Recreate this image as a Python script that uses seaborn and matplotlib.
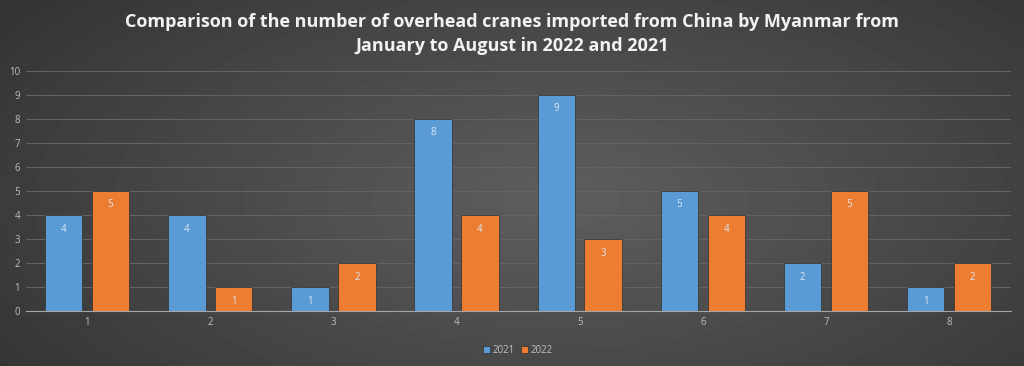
import numpy as np
import pandas as pd
import seaborn as sns
import matplotlib.pyplot as plt

# Chart data
months = [1, 2, 3, 4, 5, 6, 7, 8]
values_2021 = [4, 4, 1, 8, 9, 5, 2, 1]
values_2022 = [5, 1, 2, 4, 3, 4, 5, 2]
years = ["2021", "2022"]

data = pd.DataFrame({
    "Month": months * 2,
    "Count": values_2021 + values_2022,
    "Year": [years[0]] * len(months) + [years[1]] * len(months),
})

sns.set_theme(style="dark")
plt.rcParams["font.family"] = ["Open Sans", "DejaVu Sans"]

fig = plt.figure(figsize=(10.24, 3.66), dpi=100)

# Radial gradient background
bg = fig.add_axes([0, 0, 1, 1], zorder=-10)
yy, xx = np.mgrid[0:366, 0:1024]
dist = np.sqrt(((xx - 560) / 700.0) ** 2 + ((yy - 200) / 330.0) ** 2)
shade = np.clip(0.37 - 0.17 * dist, 0.13, 0.37)
bg.imshow(shade, cmap="gray", vmin=0, vmax=1, aspect="auto")
bg.axis("off")

ax = fig.add_axes([0.025, 0.15, 0.962, 0.656])
ax.set_facecolor("none")

palette = {"2021": "#5B9BD5", "2022": "#ED7D31"}
sns.barplot(data=data, x="Month", y="Count", hue="Year", palette=palette,
            width=0.76, gap=0.2, saturation=1, ax=ax,
            edgecolor="#3a3a3a", linewidth=0.6, zorder=3)

for container in ax.containers:
    ax.bar_label(container, padding=-14, color="#dde6f0", fontsize=7)

ax.set_ylim(0, 10)
ax.set_yticks(range(0, 11))
ax.set_xlim(-0.5, 7.5)
ax.grid(axis="y", color="#636363", linewidth=0.8, zorder=0)
ax.grid(axis="x", visible=False)
for side in ["top", "right", "left"]:
    ax.spines[side].set_visible(False)
ax.spines["bottom"].set_color("#a6a6a6")
ax.spines["bottom"].set_linewidth(0.8)
ax.tick_params(colors="#bfbfbf", labelsize=7, length=0, pad=4)
ax.set_xlabel("")
ax.set_ylabel("")

ax.legend(loc="upper center", bbox_to_anchor=(0.5, -0.105), ncol=2, frameon=False,
          fontsize=7, labelcolor="#bfbfbf", handlelength=0.7, handleheight=0.7,
          handletextpad=0.3, columnspacing=0.6)

fig.suptitle("Comparison of the number of overhead cranes imported from China by Myanmar from\n"
             "January to August in 2022 and 2021",
             color="#f2f2f2", fontsize=13, fontweight="bold", y=0.965, linespacing=1.45)

plt.savefig("out.png", dpi=100)
